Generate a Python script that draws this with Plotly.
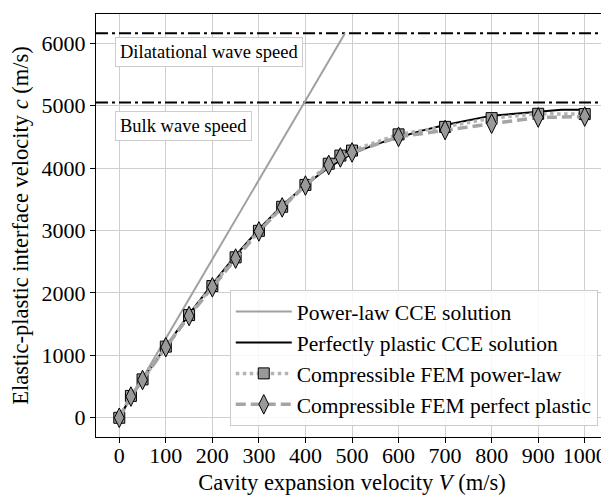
import plotly.graph_objects as go

# ---- data ----
powerlaw_cce_V = [0, 100, 200, 300, 400, 485]
powerlaw_cce_c = [0, 1270, 2540, 3810, 5080, 6160]

perfect_cce_V = [0, 25, 50, 100, 150, 200, 250, 300, 350, 400, 450, 500, 550, 600,
                 650, 700, 750, 800, 850, 900, 950, 1000]
perfect_cce_c = [0, 340, 620, 1150, 1660, 2140, 2600, 3020, 3400, 3730, 4010, 4230,
                 4380, 4490, 4600, 4690, 4770, 4840, 4870, 4900, 4935, 4935]

fem_V = [0, 25, 50, 100, 150, 200, 250, 300, 350, 400, 450, 475, 500, 600, 700, 800, 900, 1000]
fem_powerlaw_c = [0, 350, 615, 1140, 1645, 2110, 2570, 2995, 3380, 3730, 4070, 4200,
                  4280, 4540, 4660, 4800, 4870, 4865]
fem_perfect_c = [0, 340, 605, 1130, 1630, 2090, 2550, 2985, 3370, 3720, 4050, 4170,
                 4250, 4500, 4610, 4710, 4810, 4825]

dilatational_speed = 6160
bulk_speed = 5050
x_range = [-50, 1050]
y_range = [-308, 6468]
x_ticks = list(range(0, 1001, 100))
y_ticks = list(range(0, 6001, 1000))

FONT = "Liberation Serif, Times New Roman, serif"

fig = go.Figure()

# wave speed lines
for yv in (dilatational_speed, bulk_speed):
    fig.add_trace(go.Scatter(x=x_range, y=[yv, yv], mode="lines",
                             line=dict(color="black", width=2, dash="12px,4px,3px,4px"),
                             showlegend=False, hoverinfo="skip"))

fig.add_trace(go.Scatter(x=powerlaw_cce_V, y=powerlaw_cce_c, mode="lines",
                         name="Power-law CCE solution",
                         line=dict(color="#a0a0a0", width=2)))
fig.add_trace(go.Scatter(x=perfect_cce_V, y=perfect_cce_c, mode="lines",
                         name="Perfectly plastic CCE solution",
                         line=dict(color="black", width=2)))
fig.add_trace(go.Scatter(x=fem_V, y=fem_powerlaw_c, mode="lines+markers",
                         name="Compressible FEM power-law",
                         line=dict(color="#b4b4b4", width=3.5, dash="dot"),
                         marker=dict(symbol="square", size=11, color="#999999",
                                     line=dict(color="black", width=1))))
fig.add_trace(go.Scatter(x=fem_V, y=fem_perfect_c, mode="lines+markers",
                         name="Compressible FEM perfect plastic",
                         line=dict(color="#a5a5a5", width=3.5, dash="10px,5px"),
                         marker=dict(symbol="diamond-tall", size=14, color="#999999",
                                     line=dict(color="black", width=1))))

ann_style = dict(showarrow=False, xref="x", yref="y", xanchor="left",
                 font=dict(family=FONT, size=18.5, color="black"),
                 bgcolor="white", bordercolor="#cccccc", borderwidth=1, borderpad=4)
fig.add_annotation(x=-9, y=5856, text="Dilatational wave speed", **ann_style)
fig.add_annotation(x=-9, y=4672, text="Bulk wave speed", **ann_style)

# the page body adds an 8px offset, so the figure is 8px smaller on each side
fig.update_layout(
    width=601, height=487,
    margin=dict(l=88, r=1, t=6, b=58, autoexpand=False),
    plot_bgcolor="white", paper_bgcolor="white",
    font=dict(family=FONT, size=21, color="black"),
    legend=dict(x=0.98, y=0.026, xanchor="right", yanchor="bottom",
                bgcolor="rgba(255,255,255,0.85)", bordercolor="#cccccc", borderwidth=1,
                font=dict(family=FONT, size=21.5), itemwidth=56, tracegroupgap=0),
    xaxis=dict(range=x_range, tickvals=x_ticks, showgrid=True, gridcolor="#cfcfcf",
               gridwidth=1, showline=True, linecolor="black", linewidth=1, mirror=True,
               ticks="outside", ticklen=5, tickcolor="black", zeroline=False,
               automargin=False, ticklabelstandoff=-6,
               tickfont=dict(family=FONT, size=22),
               title=dict(text="Cavity expansion velocity <i>V</i> (m/s)",
                          font=dict(family=FONT, size=22.5), standoff=6)),
    yaxis=dict(range=y_range, tickvals=y_ticks, showgrid=True, gridcolor="#cfcfcf",
               gridwidth=1, showline=True, linecolor="black", linewidth=1, mirror=True,
               ticks="outside", ticklen=5, tickcolor="black", zeroline=False,
               automargin=False,
               tickfont=dict(family=FONT, size=22),
               title=dict(text="Elastic-plastic interface velocity <i>c</i> (m/s)",
                          font=dict(family=FONT, size=22.5), standoff=13)),
)

fig.write_html("out.html")
